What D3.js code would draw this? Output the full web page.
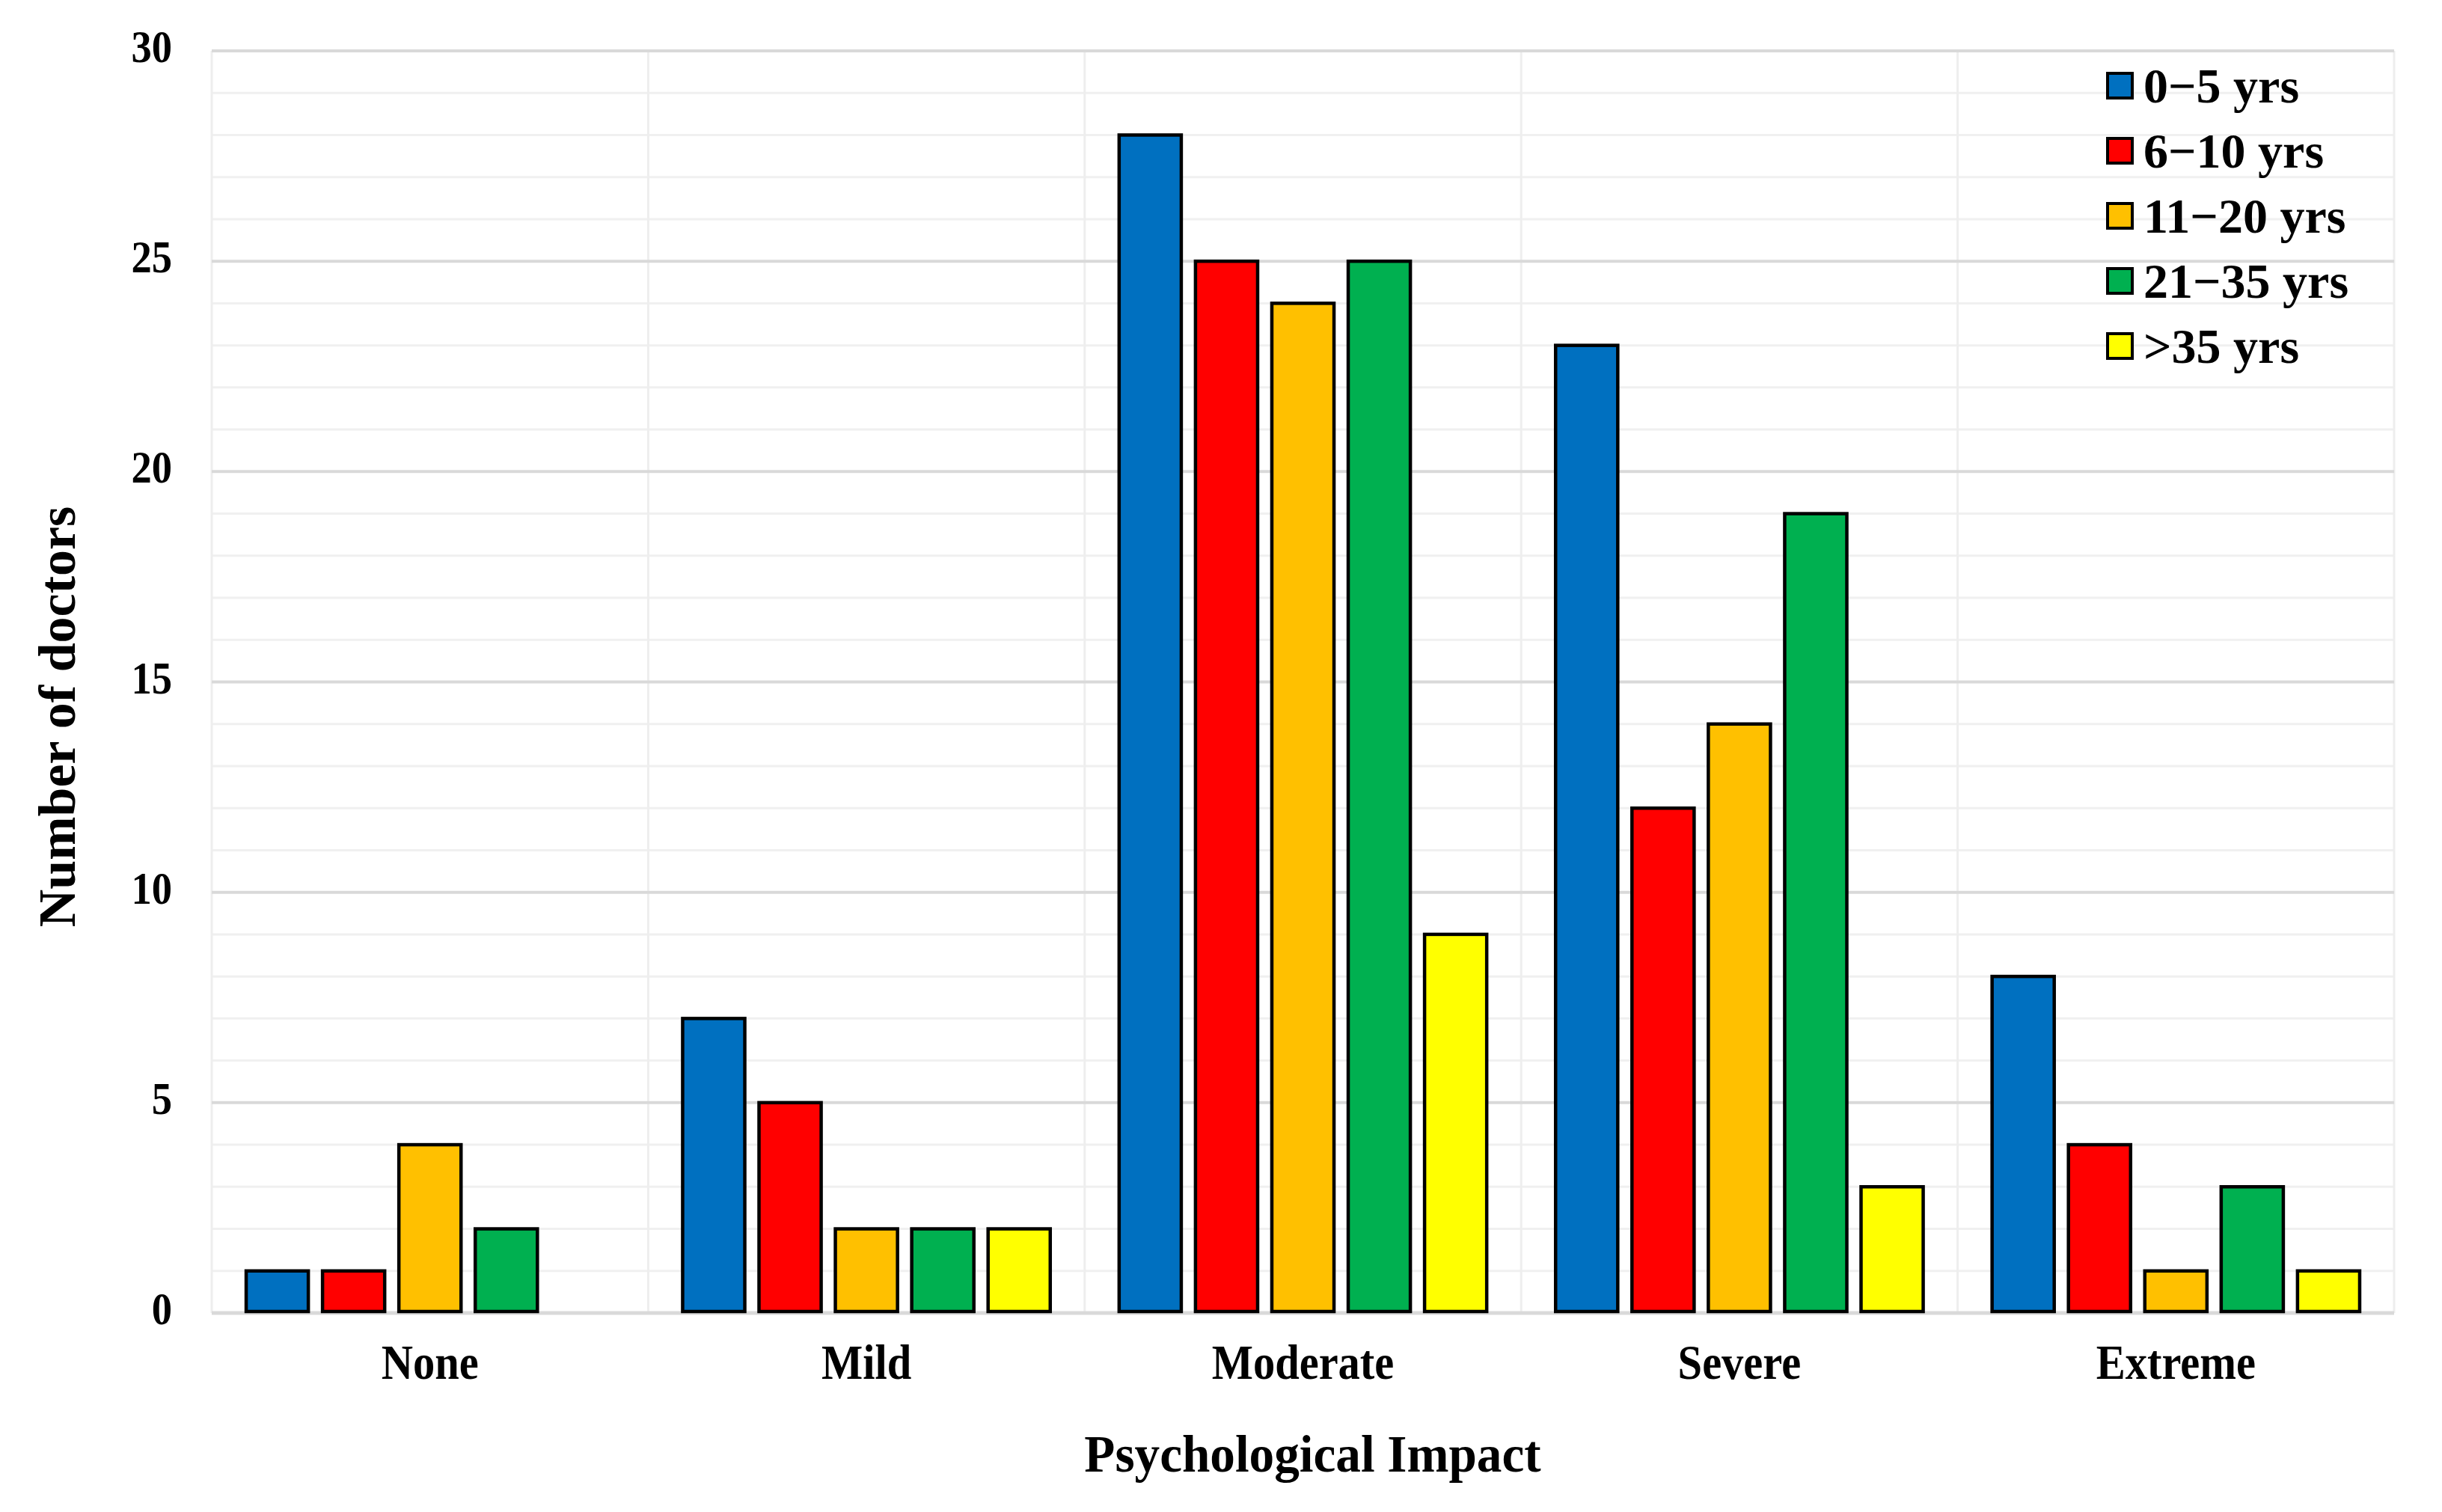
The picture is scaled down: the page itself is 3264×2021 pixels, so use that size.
<!DOCTYPE html>
<html>
<head>
<meta charset="utf-8">
<script src="https://cdn.jsdelivr.net/npm/d3@7"></script>
<style>
  html, body { margin: 0; padding: 0; background: #ffffff; }
  svg { display: block; }
  text { font-family: "Liberation Serif", "Times New Roman", serif; font-weight: bold; fill: #000; }
</style>
</head>
<body>
<svg id="chart" width="3264" height="2021"></svg>
<script>
const categories = ["None", "Mild", "Moderate", "Severe", "Extreme"];
const seriesNames = ["0\u22125 yrs", "6\u221210 yrs", "11\u221220 yrs", "21\u221235 yrs", ">35 yrs"];
const yrs0to5   = [1, 7, 28, 23, 8];
const yrs6to10  = [1, 5, 25, 12, 4];
const yrs11to20 = [4, 2, 24, 14, 1];
const yrs21to35 = [2, 2, 25, 19, 3];
const yrsOver35 = [0, 2, 9, 3, 1];
const seriesColors = ["#0070C0", "#FF0000", "#FFC000", "#00B050", "#FFFF00"];
const majorTicks = [0, 5, 10, 15, 20, 25, 30];
const xTitle = "Psychological Impact";
const yTitle = "Number of doctors";

const seriesValues = [yrs0to5, yrs6to10, yrs11to20, yrs21to35, yrsOver35];

const svg = d3.select("#chart");
const W = 3264, H = 2021;
svg.append("rect").attr("width", W).attr("height", H).attr("fill", "#fff");

const plot = { left: 283, right: 3200, top: 68, bottom: 1755 };

const x0 = d3.scaleBand().domain(categories).range([plot.left, plot.right]).paddingInner(0).paddingOuter(0);
const x1 = d3.scaleBand().domain(d3.range(seriesNames.length)).range([0, x0.bandwidth()])
  .paddingInner(0.186).paddingOuter(0.451);
const y = d3.scaleLinear().domain([0, 30]).range([plot.bottom, plot.top]);

const g = svg.append("g");

// minor gridlines
g.append("g").selectAll("line").data(y.ticks(30).filter(t => t % 5 !== 0)).join("line")
  .attr("x1", plot.left).attr("x2", plot.right)
  .attr("y1", d => y(d)).attr("y2", d => y(d))
  .attr("stroke", "#f0f0f0").attr("stroke-width", 3);

// vertical gridlines at category boundaries
const bounds = categories.map(c => x0(c)).concat([plot.right]);
g.append("g").selectAll("line").data(bounds).join("line")
  .attr("x1", d => d).attr("x2", d => d)
  .attr("y1", plot.top).attr("y2", plot.bottom)
  .attr("stroke", "#eeeeee").attr("stroke-width", 3);

// major gridlines
g.append("g").selectAll("line").data(majorTicks).join("line")
  .attr("x1", plot.left).attr("x2", plot.right)
  .attr("y1", d => y(d)).attr("y2", d => y(d))
  .attr("stroke", "#d9d9d9").attr("stroke-width", d => d === 0 ? 5 : 4);

// y tick labels
g.append("g").selectAll("text").data(majorTicks).join("text")
  .attr("transform", d => `translate(230,${y(d) + 15}) scale(0.88,1)`)
  .attr("text-anchor", "end")
  .attr("font-size", 62)
  .text(d => d);

// bars
const barData = [];
categories.forEach((c, ci) => {
  seriesValues.forEach((vals, si) => {
    if (vals[ci] > 0) barData.push({ c, si, v: vals[ci] });
  });
});
g.append("g").selectAll("rect").data(barData).join("rect")
  .attr("x", d => x0(d.c) + x1(d.si))
  .attr("width", x1.bandwidth())
  .attr("y", d => y(d.v))
  .attr("height", d => y(0) - y(d.v) - 2)
  .attr("fill", d => seriesColors[d.si])
  .attr("stroke", "#000").attr("stroke-width", 4.5);

// category labels
g.append("g").selectAll("text").data(categories).join("text")
  .attr("transform", d => `translate(${x0(d) + x0.bandwidth() / 2},1843) scale(0.9,1)`)
  .attr("text-anchor", "middle")
  .attr("font-size", 65)
  .text(d => d);

// axis titles
svg.append("text")
  .attr("transform", `translate(${(plot.left + plot.right) / 2 + 13},1967) scale(0.96,1)`)
  .attr("text-anchor", "middle")
  .attr("font-size", 70)
  .text(xTitle);

svg.append("text")
  .attr("transform", `translate(100,958) rotate(-90) scale(1,1)`)
  .attr("text-anchor", "middle")
  .attr("font-size", 70)
  .text(yTitle);

// legend
const legend = svg.append("g").attr("transform", "translate(2815,96)");
const rowH = 87;
const items = legend.selectAll("g").data(seriesNames).join("g")
  .attr("transform", (d, i) => `translate(0,${i * rowH})`);
items.append("rect")
  .attr("x", 2).attr("y", 2).attr("width", 33).attr("height", 33)
  .attr("fill", (d, i) => seriesColors[i])
  .attr("stroke", "#000").attr("stroke-width", 4);
items.append("text")
  .attr("x", 50).attr("y", 41)
  .attr("font-size", 66)
  .text(d => d);
</script>
</body>
</html>
